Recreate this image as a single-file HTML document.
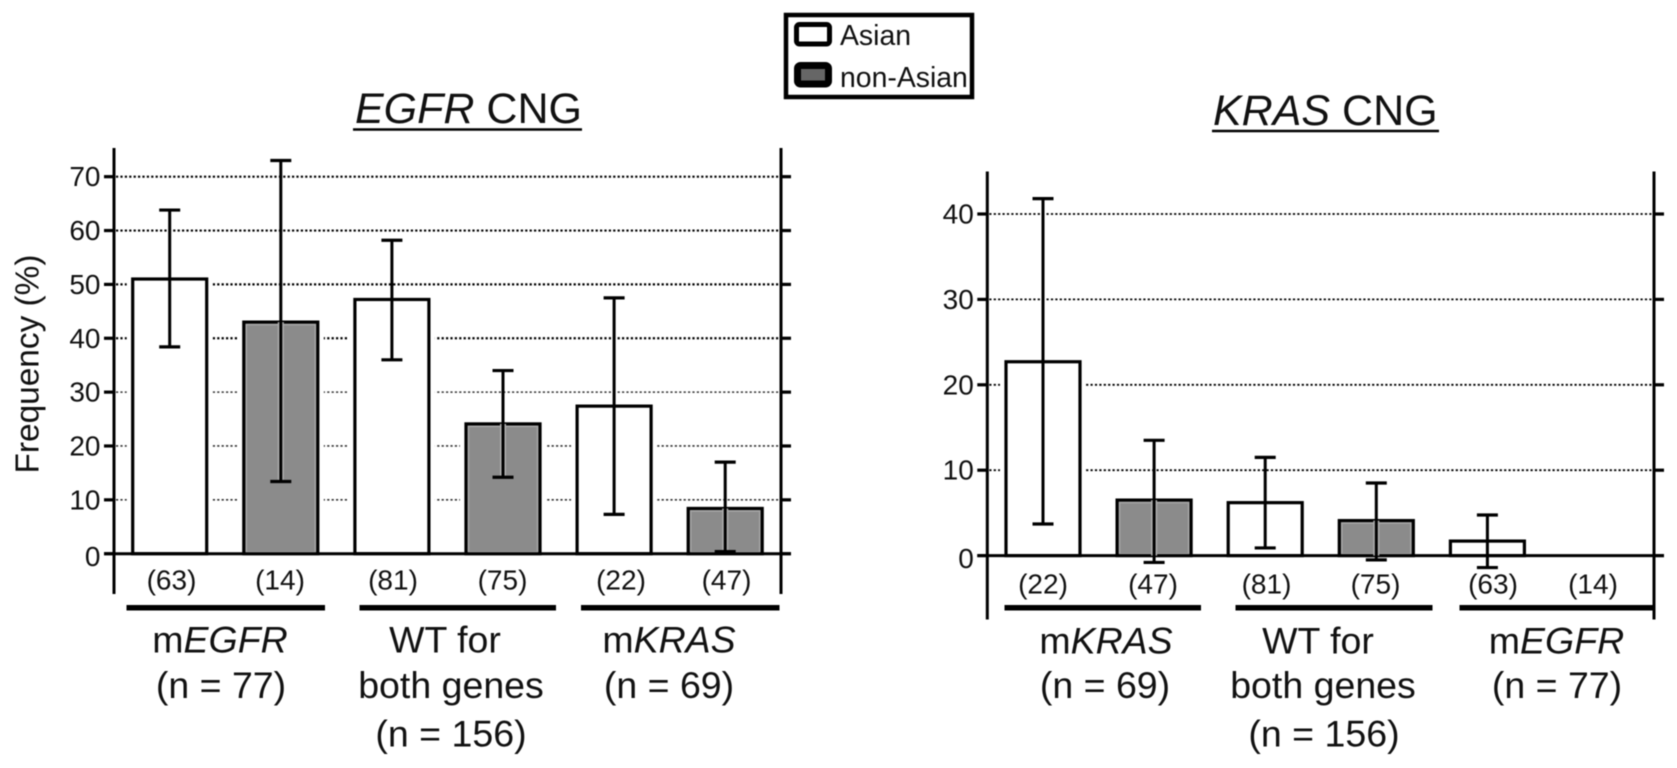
<!DOCTYPE html>
<html lang="en">
<head>
<meta charset="utf-8">
<title>EGFR and KRAS CNG frequency</title>
<style>
html,body{margin:0;padding:0;background:#fff;}
body{width:1677px;height:768px;overflow:hidden;}
svg{display:block;filter:blur(0.45px);}
text{font-family:"Liberation Sans",Arial,sans-serif;fill:#111;}
.tick{font-size:28px;text-anchor:end;}
.nlab{font-size:28px;text-anchor:middle;}
.cat{font-size:37.5px;text-anchor:middle;}
.title{font-size:43px;}
.leg{font-size:28.4px;}
</style>
</head>
<body>
<svg id="figure" xmlns="http://www.w3.org/2000/svg" width="1677" height="768" viewBox="0 0 1677 768">
  <rect x="0" y="0" width="1677" height="768" fill="#fff"/>

  <g id="egfr-chart"></g>
  <g id="kras-chart"></g>

  <g>
    <rect x="786" y="15" width="186" height="82" fill="#fff" stroke="#000" stroke-width="4.5"/>
    <rect x="796.5" y="24.5" width="33" height="19.5" rx="3" fill="#fff" stroke="#000" stroke-width="5"/>
    <text class="leg" x="840" y="45">Asian</text>
    <rect x="797.5" y="65.5" width="31" height="18.5" rx="3" fill="#666" stroke="#000" stroke-width="7"/>
    <text class="leg" x="840" y="87">non-Asian</text>
  </g>

  <g>
    <text class="title" x="355" y="123"><tspan font-style="italic">EGFR</tspan> CNG</text>
    <line x1="353" y1="129.5" x2="582" y2="129.5" stroke="#000" stroke-width="2.5"/>
  </g>
  <g>
    <text class="title" x="1213" y="125"><tspan font-style="italic">KRAS</tspan> CNG</text>
    <line x1="1212" y1="131" x2="1439" y2="131" stroke="#000" stroke-width="2.5"/>
  </g>

  <text font-size="33.4" text-anchor="middle" transform="translate(38.5 364) rotate(-90)">Frequency (%)</text>

  <g>
    <text class="nlab" x="171.5" y="589.5">(63)</text>
    <text class="nlab" x="280" y="589.5">(14)</text>
    <text class="nlab" x="393" y="589.5">(81)</text>
    <text class="nlab" x="502.5" y="589.5">(75)</text>
    <text class="nlab" x="621" y="589.5">(22)</text>
    <text class="nlab" x="726.5" y="589.5">(47)</text>
  </g>
  <g>
    <rect x="126.5" y="605" width="198.5" height="5.5" fill="#000"/>
    <rect x="359.5" y="605" width="196.5" height="5.5" fill="#000"/>
    <rect x="581" y="605" width="198.5" height="5.5" fill="#000"/>
  </g>
  <g>
    <text class="cat" x="220" y="652.5">m<tspan font-style="italic">EGFR</tspan></text>
    <text class="cat" x="221" y="698">(n = 77)</text>
    <text class="cat" x="445" y="652.5">WT for</text>
    <text class="cat" x="451" y="698">both genes</text>
    <text class="cat" x="451" y="746.5">(n = 156)</text>
    <text class="cat" x="669" y="652.5">m<tspan font-style="italic">KRAS</tspan></text>
    <text class="cat" x="669" y="698">(n = 69)</text>
  </g>

  <g>
    <text class="nlab" x="1043" y="593.5">(22)</text>
    <text class="nlab" x="1153" y="593.5">(47)</text>
    <text class="nlab" x="1266.5" y="593.5">(81)</text>
    <text class="nlab" x="1375.5" y="593.5">(75)</text>
    <text class="nlab" x="1493" y="593.5">(63)</text>
    <text class="nlab" x="1593" y="593.5">(14)</text>
  </g>
  <g>
    <rect x="1004.5" y="605" width="196.5" height="5.5" fill="#000"/>
    <rect x="1235.5" y="605" width="197" height="5.5" fill="#000"/>
    <rect x="1459.5" y="605" width="195" height="5.5" fill="#000"/>
  </g>
  <g>
    <text class="cat" x="1106" y="653.5">m<tspan font-style="italic">KRAS</tspan></text>
    <text class="cat" x="1105" y="698">(n = 69)</text>
    <text class="cat" x="1318" y="653.5">WT for</text>
    <text class="cat" x="1323" y="698">both genes</text>
    <text class="cat" x="1324" y="746.5">(n = 156)</text>
    <text class="cat" x="1556.5" y="653.5">m<tspan font-style="italic">EGFR</tspan></text>
    <text class="cat" x="1557" y="698">(n = 77)</text>
  </g>
</svg>

<script>
// EGFR CNG panel data
const egfrCategories = ['mEGFR-asian', 'mEGFR-non-asian', 'wt-asian', 'wt-non-asian', 'mKRAS-asian', 'mKRAS-non-asian'];
const egfrGroups = ['Asian', 'non-Asian', 'Asian', 'non-Asian', 'Asian', 'non-Asian'];
const egfrValues = [51, 43, 47.2, 24.1, 27.4, 8.4];
const egfrUpper = [63.8, 73, 58.2, 34, 47.5, 17];
const egfrLower = [38.4, 13.4, 36, 14.2, 7.3, 0.4];
const egfrTicks = [0, 10, 20, 30, 40, 50, 60, 70];

// KRAS CNG panel data
const krasCategories = ['mKRAS-asian', 'mKRAS-non-asian', 'wt-asian', 'wt-non-asian', 'mEGFR-asian', 'mEGFR-non-asian'];
const krasGroups = ['Asian', 'non-Asian', 'Asian', 'non-Asian', 'Asian', 'non-Asian'];
const krasValues = [22.7, 6.5, 6.2, 4.1, 1.7, 0];
const krasUpper = [41.8, 13.5, 11.5, 8.5, 4.75, 0];
const krasLower = [3.7, -0.8, 0.9, -0.5, -1.4, 0];
const krasTicks = [0, 10, 20, 30, 40];

const SVG_NS = 'http://www.w3.org/2000/svg';

function make(parent, tag, props) {
  const node = document.createElementNS(SVG_NS, tag);
  Object.keys(props).forEach(function (k) { node.setAttribute(k, props[k]); });
  parent.appendChild(node);
  return node;
}

function drawChart(rootId, prefix, cats, groups, vals, upper, lower, ticks, geo) {
  const root = document.getElementById(rootId);
  const yScale = function (v) { return geo.zeroY - v * geo.pxPerUnit; };
  const xScale = function (i) { return geo.firstX + i * geo.step; };

  // horizontal dotted gridlines
  ticks.forEach(function (t) {
    if (t === 0) return;
    const thin = t <= geo.thinAtOrBelow;
    const grid = make(root, 'line', { x1: geo.leftX + 2, x2: geo.rightX - 2, y1: yScale(t), y2: yScale(t), stroke: thin ? '#333' : '#000', 'stroke-width': thin ? geo.gridWidth - 0.6 : geo.gridWidth, 'stroke-dasharray': '2.2 2.2' });
    
    
  });

  // axes
  const leftAxis = make(root, 'line', { x1: geo.leftX, x2: geo.leftX, y1: geo.topY, y2: geo.bottomY, stroke: '#000', 'stroke-width': 3 });
  
  
  const rightAxis = make(root, 'line', { x1: geo.rightX, x2: geo.rightX, y1: geo.topY, y2: geo.bottomY, stroke: '#000', 'stroke-width': 3 });
  
  

  // ticks and tick labels
  ticks.forEach(function (t) {
    const y = yScale(t);
    const leftTick = make(root, 'line', { x1: geo.leftX - 10, x2: geo.leftX, y1: y, y2: y, stroke: '#000', 'stroke-width': 3.2 });
    
    
    const rightTick = make(root, 'line', { x1: geo.rightX, x2: geo.rightX + 10, y1: y, y2: y, stroke: '#000', 'stroke-width': 3.2 });
    
    
    const label = make(root, 'text', { class: 'tick', x: geo.leftX - 13.5, y: y + 9.5 + (t === 0 ? 3 : 0) });
    label.textContent = String(t);
    
    
  });

  // bars with their white halos
  cats.forEach(function (cat, i) {
    const cx = xScale(i);
    const top = yScale(vals[i]);
    const gray = groups[i] !== 'Asian';
    const halo = make(root, 'rect', { x: cx - geo.barW / 2 - 6, y: top - 2, width: geo.barW + 12, height: Math.max(0, geo.zeroY - top + 2), fill: '#fff' });
    
    
    const bar = make(root, 'rect', { x: cx - geo.barW / 2, y: top, width: geo.barW, height: Math.max(0, geo.zeroY - top), fill: gray ? '#8b8b8b' : '#fff', stroke: '#000', 'stroke-width': 3.2 });
    
    
    if (gray) {
      const inner = make(root, 'rect', { x: cx - geo.barW / 2 + 2.5, y: top + 2.5, width: Math.max(0, geo.barW - 5), height: Math.max(0, geo.zeroY - top - 4), fill: 'none', stroke: '#a8a8a8', 'stroke-width': 1.4 });
      
      
    }
  });

  // baseline
  const baseline = make(root, 'line', { x1: geo.leftX - 10, x2: geo.rightX + 10, y1: geo.zeroY, y2: geo.zeroY, stroke: '#000', 'stroke-width': 3 });
  
  

  // error bars
  cats.forEach(function (cat, i) {
    const cx = xScale(i);
    const yu = yScale(upper[i]);
    const yl = yScale(lower[i]);
    if (yu === yl) return;
    const gray = groups[i] !== 'Asian';
    if (gray) {
      const glowTop = Math.max(yu, yScale(vals[i]));
      const glow = make(root, 'line', { x1: cx, x2: cx, y1: glowTop, y2: Math.min(yl, geo.zeroY), stroke: '#b0b0b0', 'stroke-width': 6 });
      
      
    }
    const stem = make(root, 'line', { x1: cx, x2: cx, y1: yu, y2: yl, stroke: '#000', 'stroke-width': 3 });
    
    
    const capTop = make(root, 'line', { x1: cx - 10.5, x2: cx + 10.5, y1: yu, y2: yu, stroke: '#000', 'stroke-width': 3.2 });
    
    
    const capBottom = make(root, 'line', { x1: cx - 10.5, x2: cx + 10.5, y1: yl, y2: yl, stroke: '#000', 'stroke-width': 3.2 });
    
    
  });
}

drawChart('egfr-chart', 'egfr', egfrCategories, egfrGroups, egfrValues, egfrUpper, egfrLower, egfrTicks, {
  zeroY: 553.7, pxPerUnit: 5.386, firstX: 169.7, step: 111.1, barW: 74,
  leftX: 114, rightX: 781, topY: 148, bottomY: 594, gridWidth: 2.2, thinAtOrBelow: 30
});
drawChart('kras-chart', 'kras', krasCategories, krasGroups, krasValues, krasUpper, krasLower, krasTicks, {
  zeroY: 555.6, pxPerUnit: 8.54, firstX: 1043, step: 111.1, barW: 74,
  leftX: 987.3, rightX: 1654, topY: 171.5, bottomY: 619.5, gridWidth: 1.8, thinAtOrBelow: 0
});
</script>
</body>
</html>
